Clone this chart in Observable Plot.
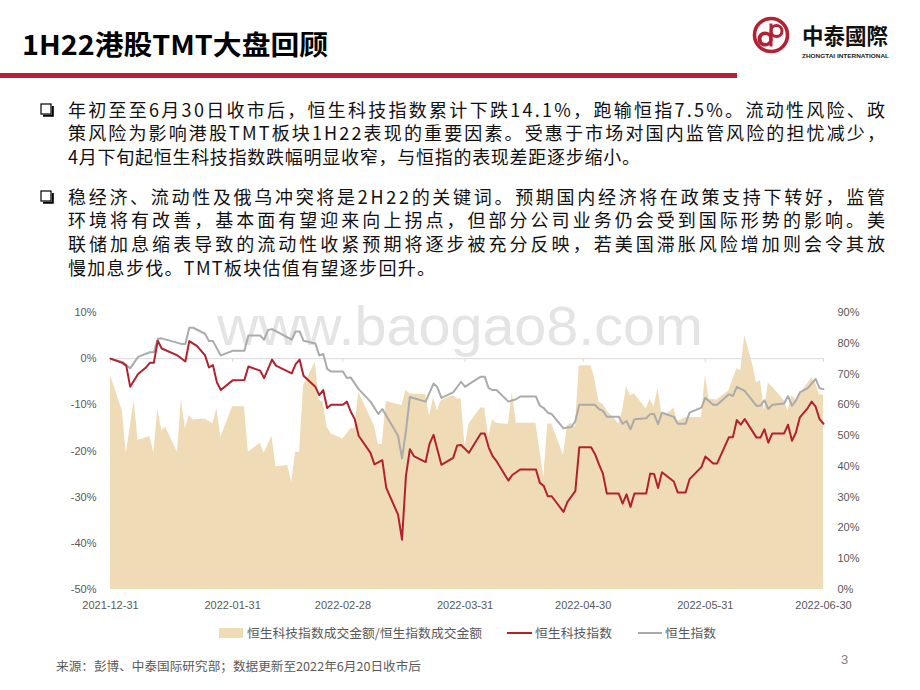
<!DOCTYPE html>
<html>
<head>
<meta charset="utf-8">
<script src="https://cdn.jsdelivr.net/npm/d3@7"></script>
<script src="https://cdn.jsdelivr.net/npm/@observablehq/plot@0.6"></script>
<style>
  html, body { margin: 0; padding: 0; background: #fff; }
  #page { position: relative; width: 920px; height: 690px; overflow: hidden; background: #fff; }
  #bg { position: absolute; left: 0; top: 0; }
  #chart { position: absolute; left: 0; top: 290px; }
  .cjk { font-family: "Noto Sans CJK SC", "Noto Sans", sans-serif; }
</style>
</head>
<body>
<div id="page">
  <svg id="bg" width="920" height="690" viewBox="0 0 920 690"></svg>
  <div id="chart"></div>
</div>
<script>
// ---------------- data ----------------
const xTickLabels = ["2021-12-31", "2022-01-31", "2022-02-28", "2022-03-31", "2022-04-30", "2022-05-31", "2022-06-30"];
const leftTicks = [-50, -40, -30, -20, -10, 0, 10];           // %
const rightTicks = [0, 10, 20, 30, 40, 50, 60, 70, 80, 90];   // %

// 恒生科技指数 (cumulative change, %)
const hstech = [
  ["2021-12-31", 0], ["2022-01-03", -0.9], ["2022-01-04", -1.5], ["2022-01-05", -6.1], ["2022-01-07", -3.3],
  ["2022-01-09", -1.9], ["2022-01-10", -0.9], ["2022-01-11", -0.9], ["2022-01-12", 3.9], ["2022-01-13", 2.2],
  ["2022-01-17", 0.7], ["2022-01-19", -0.6], ["2022-01-20", 3.8], ["2022-01-22", 2.7], ["2022-01-24", 0.7],
  ["2022-01-25", -1.9], ["2022-01-26", -1.4], ["2022-01-27", -5.1], ["2022-01-28", -6.8], ["2022-01-31", -4.7],
  ["2022-02-03", -4.6], ["2022-02-04", -1.7], ["2022-02-07", -2.6], ["2022-02-08", -4.2], ["2022-02-10", -0.2],
  ["2022-02-11", -1.5], ["2022-02-15", -3.2], ["2022-02-16", -1.2], ["2022-02-17", -0.2], ["2022-02-18", -3.7],
  ["2022-02-21", -6.1], ["2022-02-22", -7.9], ["2022-02-23", -6.8], ["2022-02-24", -10.7], ["2022-02-25", -10.0],
  ["2022-02-28", -10.0], ["2022-03-01", -9.3], ["2022-03-02", -11.5], ["2022-03-03", -13.1], ["2022-03-04", -16.7],
  ["2022-03-07", -20.4], ["2022-03-08", -22.9], ["2022-03-10", -22.0], ["2022-03-11", -28.0], ["2022-03-14", -33.8],
  ["2022-03-15", -39.2], ["2022-03-16", -25.4], ["2022-03-17", -19.6], ["2022-03-18", -21.1], ["2022-03-21", -22.4],
  ["2022-03-22", -18.4], ["2022-03-23", -16.5], ["2022-03-25", -23.0], ["2022-03-28", -21.5], ["2022-03-29", -18.8],
  ["2022-03-30", -18.7], ["2022-04-01", -20.4], ["2022-04-04", -16.2], ["2022-04-05", -16.2], ["2022-04-06", -19.2],
  ["2022-04-07", -21.1], ["2022-04-08", -22.2], ["2022-04-11", -26.4], ["2022-04-12", -25.2], ["2022-04-14", -24.0],
  ["2022-04-18", -24.0], ["2022-04-19", -26.9], ["2022-04-20", -27.6], ["2022-04-21", -29.8], ["2022-04-22", -29.8],
  ["2022-04-25", -33.2], ["2022-04-26", -31.0], ["2022-04-28", -28.7], ["2022-04-29", -19.2], ["2022-05-02", -19.2],
  ["2022-05-03", -20.7], ["2022-05-04", -22.9], ["2022-05-05", -24.9], ["2022-05-06", -29.2], ["2022-05-09", -29.2],
  ["2022-05-10", -31.4], ["2022-05-11", -29.4], ["2022-05-12", -32.1], ["2022-05-13", -29.2], ["2022-05-16", -29.2],
  ["2022-05-17", -24.9], ["2022-05-18", -25.0], ["2022-05-19", -28.0], ["2022-05-20", -24.6], ["2022-05-23", -26.6],
  ["2022-05-24", -29.0], ["2022-05-26", -29.0], ["2022-05-27", -26.1], ["2022-05-30", -23.5], ["2022-05-31", -21.2],
  ["2022-06-02", -22.7], ["2022-06-03", -22.7], ["2022-06-06", -17.0], ["2022-06-07", -17.0], ["2022-06-08", -13.3],
  ["2022-06-09", -14.3], ["2022-06-10", -13.1], ["2022-06-13", -17.1], ["2022-06-14", -17.1], ["2022-06-15", -15.3],
  ["2022-06-16", -18.2], ["2022-06-17", -16.2], ["2022-06-20", -16.2], ["2022-06-21", -14.3], ["2022-06-22", -17.8],
  ["2022-06-23", -16.0], ["2022-06-24", -12.7], ["2022-06-26", -10.7], ["2022-06-27", -9.3], ["2022-06-28", -10.4],
  ["2022-06-29", -13.1], ["2022-06-30", -14.1]
];

// 恒生指数 (cumulative change, %)
const hsi = [
  ["2021-12-31", 0], ["2022-01-03", -0.7], ["2022-01-05", -2.1], ["2022-01-07", 0.4], ["2022-01-10", 1.4],
  ["2022-01-11", 1.4], ["2022-01-12", 4.3], ["2022-01-13", 4.4], ["2022-01-18", 3.2], ["2022-01-19", 3.2],
  ["2022-01-20", 6.7], ["2022-01-21", 6.7], ["2022-01-24", 5.4], ["2022-01-25", 3.8], ["2022-01-26", 3.8],
  ["2022-01-28", 0.7], ["2022-01-31", 1.7], ["2022-02-03", 1.7], ["2022-02-04", 5.0], ["2022-02-07", 5.0],
  ["2022-02-08", 4.1], ["2022-02-09", 6.2], ["2022-02-10", 6.4], ["2022-02-15", 4.1], ["2022-02-16", 5.9],
  ["2022-02-17", 5.9], ["2022-02-18", 3.9], ["2022-02-21", 3.3], ["2022-02-22", 0.7], ["2022-02-23", 1.0],
  ["2022-02-24", -2.2], ["2022-02-25", -2.8], ["2022-02-28", -2.8], ["2022-03-01", -4.2], ["2022-03-02", -4.1],
  ["2022-03-04", -6.6], ["2022-03-07", -9.3], ["2022-03-09", -12.0], ["2022-03-10", -10.9], ["2022-03-14", -16.7],
  ["2022-03-15", -21.6], ["2022-03-16", -15.7], ["2022-03-17", -8.3], ["2022-03-21", -9.3], ["2022-03-23", -5.4],
  ["2022-03-24", -6.2], ["2022-03-25", -8.5], ["2022-03-28", -7.3], ["2022-03-30", -5.0], ["2022-03-31", -6.1],
  ["2022-04-01", -5.5], ["2022-04-04", -3.9], ["2022-04-05", -3.9], ["2022-04-06", -6.4], ["2022-04-07", -6.8],
  ["2022-04-08", -6.8], ["2022-04-11", -9.3], ["2022-04-13", -8.8], ["2022-04-14", -8.2], ["2022-04-18", -8.2],
  ["2022-04-19", -10.2], ["2022-04-20", -10.7], ["2022-04-21", -11.7], ["2022-04-22", -12.0], ["2022-04-25", -15.1],
  ["2022-04-26", -14.9], ["2022-04-27", -14.8], ["2022-04-28", -13.5], ["2022-04-29", -10.0], ["2022-05-03", -10.0],
  ["2022-05-04", -10.9], ["2022-05-05", -11.3], ["2022-05-06", -12.6], ["2022-05-09", -12.6], ["2022-05-10", -14.1],
  ["2022-05-11", -13.5], ["2022-05-12", -15.3], ["2022-05-13", -13.1], ["2022-05-16", -12.9], ["2022-05-17", -12.0],
  ["2022-05-18", -12.0], ["2022-05-19", -14.2], ["2022-05-20", -11.7], ["2022-05-23", -12.6], ["2022-05-24", -14.1],
  ["2022-05-26", -14.1], ["2022-05-27", -11.7], ["2022-05-30", -10.6], ["2022-05-31", -8.5], ["2022-06-02", -10.0],
  ["2022-06-03", -10.0], ["2022-06-06", -7.7], ["2022-06-07", -8.1], ["2022-06-08", -6.1], ["2022-06-10", -7.0],
  ["2022-06-13", -10.2], ["2022-06-14", -10.2], ["2022-06-15", -9.0], ["2022-06-16", -10.9], ["2022-06-17", -10.0],
  ["2022-06-20", -9.7], ["2022-06-21", -8.1], ["2022-06-22", -10.2], ["2022-06-23", -9.1], ["2022-06-24", -7.3],
  ["2022-06-26", -6.4], ["2022-06-28", -4.4], ["2022-06-29", -6.4], ["2022-06-30", -6.6]
];

// 恒生科技指数成交金额/恒生指数成交金额 (%, right axis)
const turnoverRatio = [
  ["2021-12-31", 69.5], ["2022-01-03", 58.1], ["2022-01-04", 44.1], ["2022-01-06", 61.4], ["2022-01-07", 48.4],
  ["2022-01-10", 49.7], ["2022-01-11", 44.3], ["2022-01-12", 58.7], ["2022-01-13", 51.6], ["2022-01-14", 52.7],
  ["2022-01-17", 44.6], ["2022-01-18", 61.9], ["2022-01-19", 52.2], ["2022-01-20", 56.5], ["2022-01-21", 55.1],
  ["2022-01-24", 55.4], ["2022-01-26", 53.8], ["2022-01-27", 58.7], ["2022-01-28", 49.4], ["2022-01-31", 59.4],
  ["2022-02-03", 59.4], ["2022-02-04", 44.6], ["2022-02-07", 47.5], ["2022-02-08", 44.3], ["2022-02-10", 49.7],
  ["2022-02-11", 39.9], ["2022-02-14", 40.3], ["2022-02-15", 34.8], ["2022-02-16", 44.6], ["2022-02-17", 44.6],
  ["2022-02-18", 66.2], ["2022-02-21", 73.8], ["2022-02-22", 61.4], ["2022-02-23", 60.8], ["2022-02-24", 52.7],
  ["2022-02-25", 50.5], ["2022-02-28", 48.9], ["2022-03-02", 52.2], ["2022-03-03", 52.2], ["2022-03-04", 64.1],
  ["2022-03-08", 53.2], ["2022-03-09", 47.1], ["2022-03-10", 47.1], ["2022-03-11", 61.1], ["2022-03-15", 59.7],
  ["2022-03-16", 64.8], ["2022-03-17", 63.5], ["2022-03-21", 63.3], ["2022-03-22", 56.2], ["2022-03-23", 62.4],
  ["2022-03-24", 58.1], ["2022-03-25", 61.4], ["2022-03-28", 63.0], ["2022-03-29", 61.9], ["2022-03-30", 61.9],
  ["2022-03-31", 46.2], ["2022-04-01", 53.8], ["2022-04-04", 59.0], ["2022-04-05", 59.0], ["2022-04-06", 49.7],
  ["2022-04-07", 55.1], ["2022-04-08", 54.0], ["2022-04-11", 53.6], ["2022-04-12", 64.1], ["2022-04-13", 54.0],
  ["2022-04-14", 54.0], ["2022-04-18", 54.0], ["2022-04-20", 36.5], ["2022-04-21", 53.8], ["2022-04-22", 53.8],
  ["2022-04-25", 43.5], ["2022-04-26", 53.2], ["2022-04-27", 54.0], ["2022-04-28", 52.7], ["2022-04-29", 72.7],
  ["2022-05-02", 72.7], ["2022-05-03", 68.1], ["2022-05-04", 60.8], ["2022-05-05", 60.3], ["2022-05-06", 58.1],
  ["2022-05-08", 55.4], ["2022-05-09", 53.8], ["2022-05-10", 58.1], ["2022-05-11", 65.9], ["2022-05-12", 63.0],
  ["2022-05-13", 63.5], ["2022-05-16", 58.7], ["2022-05-17", 61.9], ["2022-05-18", 59.2], ["2022-05-19", 65.5],
  ["2022-05-20", 56.5], ["2022-05-22", 57.6], ["2022-05-23", 59.0], ["2022-05-24", 54.6], ["2022-05-26", 55.9],
  ["2022-05-30", 55.9], ["2022-05-31", 69.5], ["2022-06-01", 61.9], ["2022-06-03", 61.6], ["2022-06-06", 64.6],
  ["2022-06-08", 71.7], ["2022-06-09", 71.1], ["2022-06-10", 82.5], ["2022-06-12", 73.3], ["2022-06-13", 67.0],
  ["2022-06-14", 67.9], ["2022-06-15", 58.1], ["2022-06-16", 67.0], ["2022-06-17", 65.9], ["2022-06-20", 61.4],
  ["2022-06-21", 58.1], ["2022-06-22", 63.0], ["2022-06-23", 61.6], ["2022-06-27", 68.7], ["2022-06-28", 67.0],
  ["2022-06-29", 63.2], ["2022-06-30", 63.2]
];

// texts
const titleText = "1H22港股TMT大盘回顾";
const logoCn = "中泰國際";
const logoEn = "ZHONGTAI INTERNATIONAL";
const para1 = [
  "年初至至6月30日收市后，恒生科技指数累计下跌14.1%，跑输恒指7.5%。流动性风险、政",
  "策风险为影响港股TMT板块1H22表现的重要因素。受惠于市场对国内监管风险的担忧减少，",
  "4月下旬起恒生科技指数跌幅明显收窄，与恒指的表现差距逐步缩小。"
];
const para2 = [
  "稳经济、流动性及俄乌冲突将是2H22的关键词。预期国内经济将在政策支持下转好，监管",
  "环境将有改善，基本面有望迎来向上拐点，但部分公司业务仍会受到国际形势的影响。美",
  "联储加息缩表导致的流动性收紧预期将逐步被充分反映，若美国滞胀风险增加则会令其放",
  "慢加息步伐。TMT板块估值有望逐步回升。"
];
const legendLabels = ["恒生科技指数成交金额/恒生指数成交金额", "恒生科技指数", "恒生指数"];
const sourceText = "来源：彭博、中泰国际研究部；数据更新至2022年6月20日收市后";
const pageNumber = "3";
const watermark = "www.baogao8.com";

// ---------------- page decoration (SVG) ----------------
const ns = "http://www.w3.org/2000/svg";
const bg = document.getElementById("bg");
function el(tag, attrs, text) {
  const e = document.createElementNS(ns, tag);
  for (const k in attrs) e.setAttribute(k, attrs[k]);
  if (text != null) e.textContent = text;
  bg.appendChild(e);
  return e;
}
const CJK = "'Noto Sans CJK SC', 'Noto Sans', sans-serif";
const RED = "#B32134";

// watermark
el("text", {x: 217, y: 345, "font-family": "'Liberation Sans', Arial, sans-serif", "font-size": 56,
  fill: "#e4e4e4", textLength: 486, lengthAdjust: "spacingAndGlyphs"}, watermark);

// title
el("text", {x: 22, y: 55, "font-family": CJK, "font-size": 27, "font-weight": 700, fill: "#000",
  textLength: 306, lengthAdjust: "spacingAndGlyphs"}, titleText);
// red rule
el("rect", {x: 0, y: 73, width: 737, height: 5, fill: RED});

// logo
const cx = 771, cy = 35;
el("circle", {cx, cy, r: 16.5, fill: "none", stroke: RED, "stroke-width": 3.6});
el("line", {x1: cx, y1: cy - 11.5, x2: cx, y2: cy + 11.5, stroke: RED, "stroke-width": 3});
el("path", {d: `M ${cx} ${cy + 4} A 6 6 0 1 0 ${cx} ${cy + 4.01}`, fill: "none", stroke: RED, "stroke-width": 3});
el("circle", {cx: cx - 5.5, cy: cy + 4, r: 5.5, fill: "none", stroke: RED, "stroke-width": 3});
el("circle", {cx: cx + 5.5, cy: cy - 4, r: 5.5, fill: "none", stroke: RED, "stroke-width": 3});
el("text", {x: 802, y: 44, "font-family": "'Noto Sans CJK TC', 'Noto Sans CJK SC', sans-serif", "font-size": 22,
  "font-weight": 700, fill: "#111", textLength: 86, lengthAdjust: "spacingAndGlyphs"}, logoCn);
el("text", {x: 802, y: 57.5, "font-family": "'Liberation Sans', Arial, sans-serif", "font-size": 6.2,
  "font-weight": 700, fill: "#222", textLength: 87, lengthAdjust: "spacingAndGlyphs"}, logoEn);

// bullets
function bullet(y) {
  el("rect", {x: 41, y: y - 6, width: 10, height: 10, fill: "#fff", stroke: "#000", "stroke-width": 1.2});
  el("polyline", {points: `${52.8},${y - 4} ${52.8},${y + 5.8} ${43},${y + 5.8}`, fill: "none", stroke: "#000", "stroke-width": 2});
}
bullet(110);
bullet(197);

// paragraphs: each line stretched to the reference's line extent
const fullW = 817;
function para(lines, y0, lastW) {
  lines.forEach((t, i) => {
    const w = i === lines.length - 1 ? lastW : fullW;
    el("text", {x: 68, y: y0 + i * 23.7 + 6.5, "font-family": CJK, "font-size": 18, fill: "#111",
      textLength: w, lengthAdjust: "spacing"}, t);
  });
}
para(para1, 110, 572);
para(para2, 197, 367);

// legend
const TAN = "#EFDBB5", GRAY = "#ABABAB", LRED = "#B2222E";
el("rect", {x: 219, y: 628, width: 24, height: 10, fill: TAN});
el("text", {x: 247, y: 637.5, "font-family": CJK, "font-size": 12.5, fill: "#595959", textLength: 235, lengthAdjust: "spacingAndGlyphs"}, legendLabels[0]);
el("line", {x1: 507, y1: 633, x2: 532, y2: 633, stroke: LRED, "stroke-width": 2});
el("text", {x: 535, y: 637.5, "font-family": CJK, "font-size": 12.5, fill: "#595959", textLength: 77, lengthAdjust: "spacingAndGlyphs"}, legendLabels[1]);
el("line", {x1: 638, y1: 633, x2: 662, y2: 633, stroke: GRAY, "stroke-width": 2});
el("text", {x: 665, y: 637.5, "font-family": CJK, "font-size": 12.5, fill: "#595959", textLength: 51, lengthAdjust: "spacingAndGlyphs"}, legendLabels[2]);

// footer
el("text", {x: 56, y: 671, "font-family": CJK, "font-size": 12, fill: "#595959", textLength: 365, lengthAdjust: "spacingAndGlyphs"}, sourceText);
el("text", {x: 841, y: 664, "font-family": "'Liberation Sans', Arial, sans-serif", "font-size": 13, fill: "#7f7f7f"}, pageNumber);

// ---------------- chart (Observable Plot) ----------------
const parse = d3.utcParse("%Y-%m-%d");
const toRows = arr => arr.map(([d, v]) => ({date: parse(d), v}));
const techRows = toRows(hstech);
const hsiRows = toRows(hsi);
const ratioRows = toRows(turnoverRatio);
const xTicks = xTickLabels.map(parse);
// right axis (0–90%) shares the left axis' vertical range (−50%–10%)
const rightToLeft = r => -50 + r * 60 / 90;
const leftToRight = y => (y + 50) * 90 / 60;

const chart = Plot.plot({
  width: 920,
  height: 330,
  marginLeft: 110,
  marginRight: 97,
  marginTop: 22,
  marginBottom: 31,
  style: {background: "transparent", fontFamily: "'Liberation Sans', Arial, sans-serif", fontSize: "11px", color: "#595959"},
  x: {type: "utc", domain: [xTicks[0], xTicks[xTicks.length - 1]]},
  y: {domain: [-50, 10]},
  marks: [
    Plot.areaY(ratioRows, {x: "date", y1: -50, y2: d => rightToLeft(d.v), fill: TAN, curve: "linear"}),
    Plot.ruleY([0], {stroke: "#d9d9d9", strokeWidth: 1}),
    Plot.ruleX(xTicks, {y1: 0, y2: -0.8, stroke: "#d9d9d9", strokeWidth: 1}),
    Plot.line(hsiRows, {x: "date", y: "v", stroke: GRAY, strokeWidth: 2}),
    Plot.line(techRows, {x: "date", y: "v", stroke: LRED, strokeWidth: 2}),
    Plot.axisX(xTicks, {tickSize: 0, tickPadding: 12, tickFormat: d3.utcFormat("%Y-%m-%d"), label: null}),
    Plot.axisY(leftTicks, {anchor: "left", tickSize: 0, tickPadding: 14, tickFormat: d => d + "%", label: null}),
    Plot.axisY(rightTicks.map(rightToLeft), {anchor: "right", tickSize: 0, tickPadding: 14,
      tickFormat: d => Math.round(leftToRight(d)) + "%", label: null})
  ]
});
document.getElementById("chart").appendChild(chart);
</script>
</body>
</html>
